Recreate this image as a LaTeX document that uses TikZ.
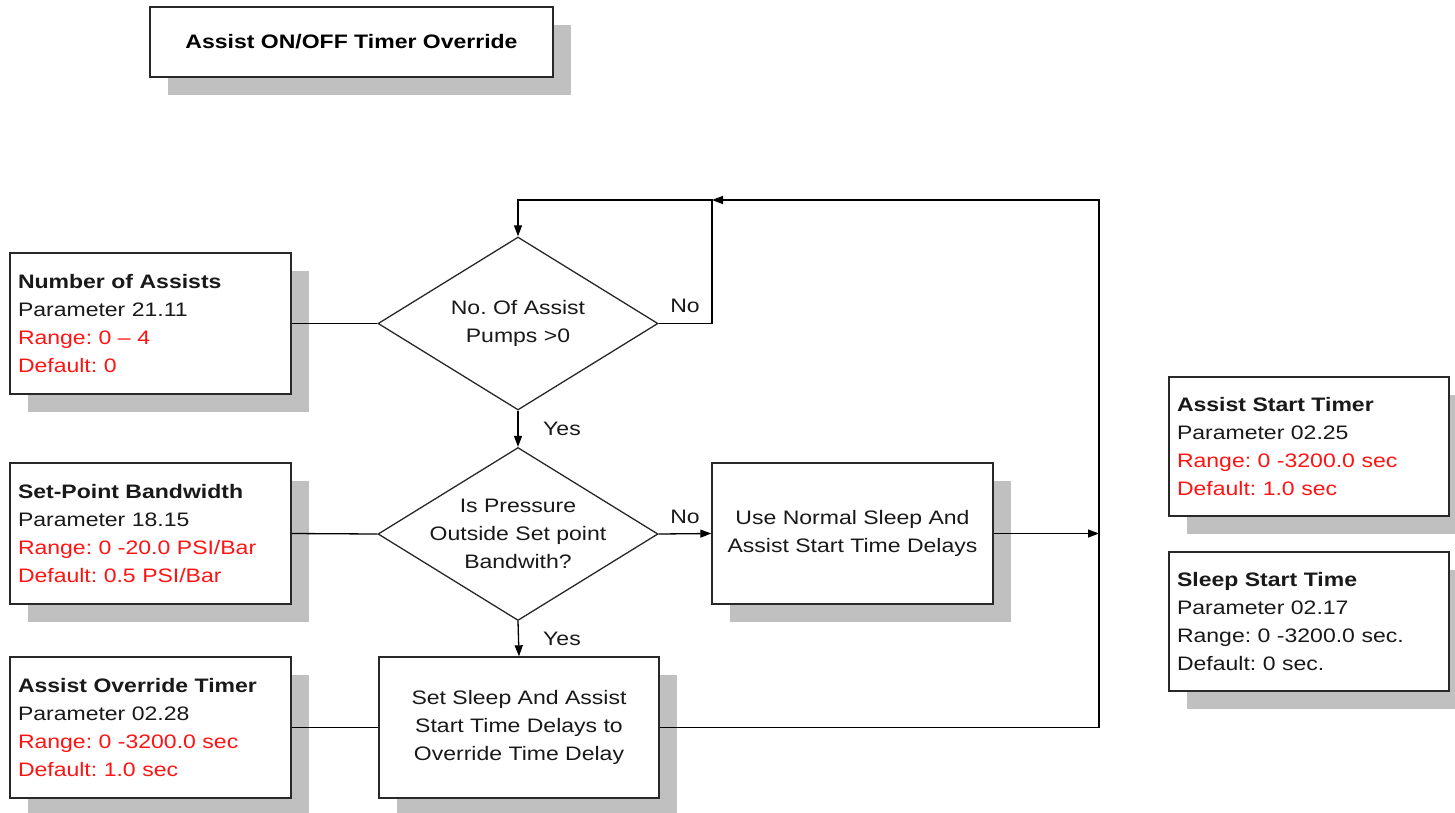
\documentclass[tikz,border=0pt]{standalone}
\usepackage{fontspec}
\setmainfont{Liberation Sans}[FakeStretch=1.18]
\usetikzlibrary{shapes.geometric,arrows.meta,shadows}
\definecolor{shadowgray}{RGB}{192,192,192}
\definecolor{linegray}{RGB}{40,40,40}
\definecolor{txtred}{RGB}{255,20,20}
\frenchspacing
\begin{document}
\begin{tikzpicture}[x=1pt,y=-1pt,
  font=\fontsize{19.5}{28}\selectfont,
  shad/.style={drop shadow={shadow xshift=18pt,shadow yshift=-18pt,fill=shadowgray,opacity=1}},
  parbox/.style={draw=linegray,line width=1.4pt,fill=white,shad,rectangle,minimum width=281pt,minimum height=141pt,text width=265pt,inner sep=8pt,align=left,text=black!90},
  procbox/.style={draw=linegray,line width=1.4pt,fill=white,shad,rectangle,minimum width=281pt,minimum height=141pt,inner sep=0pt,align=center,text=black!90},
  decision/.style={draw=linegray,line width=1.3pt,fill=white,diamond,minimum width=280pt,minimum height=173pt,inner sep=0pt},
  dtext/.style={align=center,text=black!90,inner sep=0pt},
  lbl/.style={text=black!90,inner sep=0pt},
  conn/.style={draw=black,line width=1.3pt},
  arr/.style={conn,-{Triangle[length=11pt,width=8pt]}},
  hl/.style={text=txtred}
]
\useasboundingbox (0,0) rectangle (1455,812);

% title
\node (title) [draw=linegray,line width=1.4pt,fill=white,shad,minimum width=403pt,minimum height=70pt,inner sep=0pt]
  at (351.5,42) {\bfseries Assist ON/OFF Timer Override};

% left parameter boxes
\node (nA) [parbox] at (150.5,323.5) {\textbf{Number of Assists}\\Parameter 21.11\\{\color{txtred}Range: 0 -- 4}\\{\color{txtred}Default: 0}};
\node (sB) [parbox] at (150.5,533.5) {\textbf{Set-Point Bandwidth}\\Parameter 18.15\\{\color{txtred}Range: 0 -20.0 PSI/Bar}\\{\color{txtred}Default: 0.5 PSI/Bar}};
\node (aO) [parbox] at (150.5,727.5) {\textbf{Assist Override Timer}\\Parameter 02.28\\{\color{txtred}Range: 0 -3200.0 sec}\\{\color{txtred}Default: 1.0 sec}};

% right parameter boxes
\node (aS) [parbox,minimum width=280pt,minimum height=139pt,text width=264pt] at (1309,446.5) {\textbf{Assist Start Timer}\\Parameter 02.25\\{\color{txtred}Range: 0 -3200.0 sec}\\{\color{txtred}Default: 1.0 sec}};
\node (sS) [parbox,minimum width=280pt,minimum height=139pt,text width=264pt] at (1309,621.5) {\textbf{Sleep Start Time}\\Parameter 02.17\\Range: 0 -3200.0 sec.\\Default: 0 sec.};

% decisions
\node (d1) [decision] at (518,323.5) {};
\node (d1t) [dtext] at (d1) {No. Of Assist\\Pumps >0};
\node (d2) [decision] at (518,534) {};
\node (d2t) [dtext] at (d2) {Is Pressure\\Outside Set point\\Bandwith?};

% process boxes
\node (uN) [procbox] at (852.5,533.5) {Use Normal Sleep And\\Assist Start Time Delays};
\node (sD) [procbox,minimum width=280pt] at (519,727.5) {Set Sleep And Assist\\Start Time Delays to\\Override Time Delay};

% coordinates
\coordinate (cR) at (1099,533.5);
\coordinate (cBR) at (1099,727.5);
\coordinate (cTR) at (1099,200);
\coordinate (cTM) at (712,200);
\coordinate (cNo) at (712,323.5);
\coordinate (cTL) at (518,200);

% connectors
\draw[conn] (nA.east) -- (d1.west);
\draw[conn] (sB.east) -- (d2.west);
\draw[conn] (aO.east) -- (sD.west);
\draw[arr] (d1.south) -- (d2.north);
\draw[arr] (d2.east) -- (uN.west);
\draw[arr] (d2.south) -- (sD.north);
\draw[arr] (uN.east) -- (cR);
\draw[arr] (sD.east) -- (cBR) -- (cTR) -- (cTM);
\draw[arr] (d1.east) -- (cNo) -- (cTM) -- (cTL) -- (d1.north);

% labels
\node (l1) [lbl] at (685,306) {No};
\node (l2) [lbl] at (562,429) {Yes};
\node (l3) [lbl] at (685,517) {No};
\node (l4) [lbl] at (562,639) {Yes};
\end{tikzpicture}
\end{document}
